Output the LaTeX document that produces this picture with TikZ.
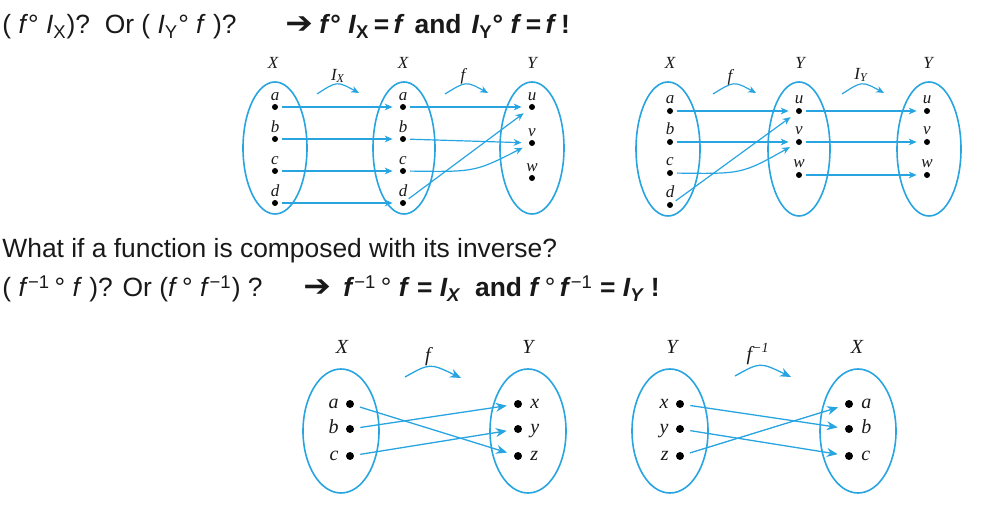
\documentclass[tikz,border=0pt]{standalone}
\usepackage{fontspec}
\setmainfont{Liberation Sans}
\newfontfamily\dfont{Liberation Serif}
\newfontfamily\arrfont{DejaVu Sans}
\usetikzlibrary{arrows.meta,shapes.geometric}
\definecolor{lblue}{RGB}{40,165,225}
\definecolor{txt}{RGB}{25,25,25}
\tikzset{
 setT/.style={draw=lblue, line width=0.8pt, ellipse, inner sep=0pt, minimum width=32pt, minimum height=66pt},
 setB/.style={draw=lblue, line width=0.8pt, ellipse, inner sep=0pt, minimum width=38pt, minimum height=62pt},
 dotT/.style={circle, fill=black, inner sep=0pt, minimum size=3pt},
 dotB/.style={circle, fill=black, inner sep=0pt, minimum size=4pt},
 arrT/.style={draw=lblue, line width=0.6pt, -{Stealth[length=4pt,width=3.4pt]}, shorten <=1.8pt, shorten >=3.5pt},
 arrB/.style={draw=lblue, line width=0.65pt, -{Stealth[length=5.5pt,width=4.5pt]}, shorten <=3pt, shorten >=3.5pt},
 arcT/.style={draw=lblue, line width=0.6pt, -{Stealth[length=4pt,width=3.4pt]}},
 arcB/.style={draw=lblue, line width=0.65pt, -{Stealth[length=5.5pt,width=4.5pt]}},
 lblT/.style={font=\dfont\itshape\fontsize{8.5}{9}\selectfont, inner sep=0pt, text=txt},
 lblB/.style={font=\dfont\itshape\fontsize{10}{11}\selectfont, inner sep=0pt, text=txt},
 ttl/.style={anchor=base west, inner sep=0pt, font=\fontsize{13.2}{15}\selectfont, text=txt},
}
\begin{document}
\begin{tikzpicture}[x=0.5pt,y=-0.5pt]
\useasboundingbox (0,0) rectangle (1000,506);
% ---------- texts ----------
\node[ttl] (t1a) at (2,34) {( \textit{f}° \textit{I}\textsubscript{X})?\ \ Or ( \textit{I}\textsubscript{Y}° \textit{f} )?};
\node[ttl] (t1b) at (285,34) {\arrfont\bfseries\scalebox{1.25}[1.15]{➔}};
\node[ttl] (t1c) at (319,34) {\bfseries \textit{f}° \textit{I}\textsubscript{X}\,=\,\textit{f}\ \hspace{0.1em}and\ \hspace{0.1em}\textit{I}\textsubscript{Y}° \textit{f}\,=\,\textit{f}\,!};
\node[ttl] (t2) at (2,258) {What if a function is composed with its inverse?};
\node[ttl] (t3a) at (2,297) {( \textit{f}\textsuperscript{−1}\,° \textit{f} )? Or (\textit{f}\,° \textit{f}\textsuperscript{−1}) ?};
\node[ttl] (t3b) at (303,297) {\arrfont\bfseries\scalebox{1.25}[1.15]{➔}};
\node[ttl] (t3c) at (343,297) {\bfseries \textit{f}\textsuperscript{\mdseries −1}\,{\mdseries °} \textit{f} = \textit{I\textsubscript{X}}\ \ and \textit{f}\,{\mdseries °}\,\textit{f}\textsuperscript{\mdseries −1} = \textit{I\textsubscript{Y}} !};
% ---------- top-left diagram ----------
\node[lblT] (tlX1) at (273,63) {X};
\node[lblT] (tlX2) at (403,63) {X};
\node[lblT] (tlY) at (532,63) {Y};
\node[setT, minimum width=32pt] (tlE1) at (275,148) {};
\node[setT, minimum width=31pt] (tlE2) at (404,148) {};
\node[setT, minimum width=32pt] (tlE3) at (532,148) {};
\foreach \n/\yy in {a/107,b/139,c/171,d/203}{
  \node[dotT] (tl\n1) at (275,\yy) {};
  \node[lblT, anchor=base] (tll\n1) at (275,\yy-6) {\n};
  \node[dotT] (tl\n2) at (403,\yy) {};
  \node[lblT, anchor=base] (tll\n2) at (403,\yy-6) {\n};
}
\foreach \n/\yy in {u/107,v/143,w/178}{
  \node[dotT] (tl\n) at (532,\yy) {};
  \node[lblT, anchor=base] (tll\n) at (532,\yy-6) {\n};
}
\foreach \n in {a,b,c,d}{ \draw[arrT] (tl\n1) -- (tl\n2); }
\draw[arrT] (tla2) -- (tlu);
\draw[arrT] (tlb2) -- (tlv);
\coordinate (tlk1) at (475,172);
\draw[arrT] (tlc2) .. controls (tlk1) .. (tlv);
\draw[arrT] (tld2) -- (tlu);
\coordinate (tlI1) at (317,94);
\coordinate (tlI1k) at (337,81);
\coordinate (tlI2) at (359,93);
\draw[arcT] (tlI1) .. controls (tlI1k) .. (tlI2);
\node[lblT] (tlIX) at (338,76) {I\textsubscript{X}};
\coordinate (tlf1) at (445,94);
\coordinate (tlf1k) at (466,81);
\coordinate (tlf2) at (488,93);
\draw[arcT] (tlf1) .. controls (tlf1k) .. (tlf2);
\node[lblT] (tlfl) at (463,76) {f};
% ---------- top-right diagram ----------
\node[lblT] (trX) at (670,63) {X};
\node[lblT] (trY1) at (800,63) {Y};
\node[lblT] (trY2) at (928,63) {Y};
\node[setT, minimum width=32pt, minimum height=67pt] (trE1) at (668,149) {};
\node[setT, minimum width=31pt, minimum height=67pt] (trE2) at (799,149) {};
\node[setT, minimum width=32pt, minimum height=67pt] (trE3) at (929,149) {};
\foreach \n/\yy in {a/111,b/142,c/173,d/205}{
  \node[dotT] (tr\n) at (670,\yy) {};
  \node[lblT, anchor=base] (trl\n) at (670,\yy-7) {\n};
}
\foreach \n/\yy in {u/111,v/142,w/175}{
  \node[dotT] (tr\n1) at (799,\yy) {};
  \node[lblT, anchor=base] (trl\n1) at (799,\yy-7) {\n};
  \node[dotT] (tr\n2) at (927,\yy) {};
  \node[lblT, anchor=base] (trl\n2) at (927,\yy-7) {\n};
  \draw[arrT] (tr\n1) -- (tr\n2);
}
\draw[arrT] (tra) -- (tru1);
\draw[arrT] (trb) -- (trv1);
\coordinate (trk1) at (742,174);
\draw[arrT] (trc) .. controls (trk1) .. (trv1);
\draw[arrT] (trd) -- (tru1);
\coordinate (trf1) at (713,94);
\coordinate (trf1k) at (734,81);
\coordinate (trf2) at (756,93);
\draw[arcT] (trf1) .. controls (trf1k) .. (trf2);
\node[lblT] (trfl) at (730,77) {f};
\coordinate (trI1) at (842,94);
\coordinate (trI1k) at (862,81);
\coordinate (trI2) at (884,93);
\draw[arcT] (trI1) .. controls (trI1k) .. (trI2);
\node[lblT] (trIY) at (861,75) {I\textsubscript{Y}};
% ---------- bottom-left diagram ----------
\node[lblB] (blX) at (342,347) {X};
\node[lblB] (blY) at (528,347) {Y};
\node[setB] (blE1) at (341,431) {};
\node[setB] (blE2) at (528,431) {};
\foreach \n/\m/\yy in {a/x/404,b/y/429,c/z/456}{
  \node[dotB] (bl\n) at (350,\yy) {};
  \node[lblB, anchor=base east] (bll\n) at (339,\yy+5) {\n};
  \node[dotB] (bl\m) at (518,\yy) {};
  \node[lblB, anchor=base west] (bll\m) at (530,\yy+5) {\m};
}
\draw[arrB] (bla) -- (blz);
\draw[arrB] (blb) -- (blx);
\draw[arrB] (blc) -- (bly);
\coordinate (blf1) at (405,377);
\coordinate (blf1k) at (430,363);
\coordinate (blf2) at (461,378);
\draw[arcB] (blf1) .. controls (blf1k) .. (blf2);
\node[lblB] (blfl) at (428,357) {f};
% ---------- bottom-right diagram ----------
\node[lblB] (brY) at (672,347) {Y};
\node[lblB] (brX) at (857,347) {X};
\node[setB] (brE1) at (670,431) {};
\node[setB] (brE2) at (858,431) {};
\foreach \n/\m/\yy in {x/a/404,y/b/429,z/c/456}{
  \node[dotB] (br\n) at (680,\yy) {};
  \node[lblB, anchor=base east] (brl\n) at (669,\yy+5) {\n};
  \node[dotB] (br\m) at (849,\yy) {};
  \node[lblB, anchor=base west] (brl\m) at (861,\yy+5) {\m};
}
\draw[arrB] (brx) -- (brb);
\draw[arrB] (bry) -- (brc);
\draw[arrB] (brz) -- (bra);
\coordinate (brf1) at (735,376);
\coordinate (brf1k) at (760,362);
\coordinate (brf2) at (791,377);
\draw[arcB] (brf1) .. controls (brf1k) .. (brf2);
\node[lblB] (brfl) at (758,354) {f\textsuperscript{−1}};
\end{tikzpicture}
\end{document}
